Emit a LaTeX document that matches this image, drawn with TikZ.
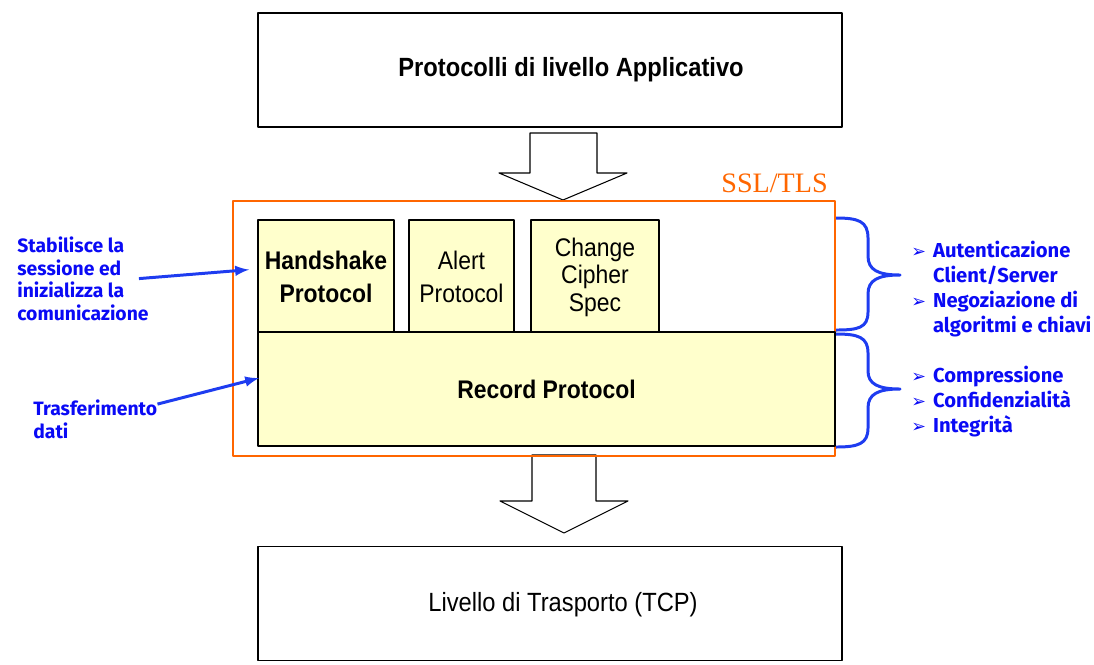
\documentclass[tikz,border=0pt]{standalone}
\usepackage{fontspec}
\setmainfont{Liberation Sans}[FakeStretch=0.9]
\newfontfamily\notefont{Fira Sans}
\newfontfamily\sslfont{Liberation Serif}
\newfontfamily\symfont{DejaVu Sans}
\definecolor{protofill}{RGB}{255,255,204}
\definecolor{sslorange}{RGB}{255,102,0}
\definecolor{notetext}{RGB}{10,10,245}
\definecolor{noteline}{RGB}{30,60,240}
\newcommand{\bul}{{\symfont\fontsize{10}{10}\selectfont ➢}\hspace{4pt}}
\begin{document}
\begin{tikzpicture}[x=0.02cm, y=-0.02cm, line join=round, >=latex,
	layer/.style={draw, line width=1.1pt, minimum width=11.68cm, minimum height=2.28cm},
	proto/.style={draw, fill=protofill, line width=1.1pt, minimum height=2.28cm, inner sep=0pt, align=center},
	note/.style={text=notetext, inner sep=0pt, align=left},
	pointer/.style={->, draw=noteline, line width=1.7pt},
	bigarrow/.style={draw, fill=white, line width=0.6pt}]
	\useasboundingbox (0,0) rectangle (1094,664);
	% livelli sopra e sotto
	\node[layer] (app) at (550,70) {};
	\node[font=\bfseries\fontsize{15}{18}\selectfont] (apptxt) at (571,70) {Protocolli di livello Applicativo};
	\node[layer] (tcp) at (550,603.5) {};
	\node[font=\fontsize{15}{18}\selectfont] (tcptxt) at (563,605) {Livello di Trasporto (TCP)};
	% frecce grandi
	\draw[bigarrow] (530,133)--(597,133)--(597,173)--(627,173)--(563,200)--(499,173)--(530,173)--cycle;
	\draw[bigarrow] (532,455)--(596,455)--(596,501)--(628,501)--(564,533)--(500,501)--(532,501)--cycle;
	% SSL/TLS
	\node[draw=sslorange, line width=1.1pt, minimum width=12.04cm, minimum height=5.1cm] (ssl) at (534,328.5) {};
	\node[text=sslorange, anchor=base east, inner sep=0pt, font=\sslfont\fontsize{16}{18}\selectfont] (ssltxt) at (828,192) {SSL/TLS};
	\node[proto, minimum width=2.72cm, font=\bfseries\fontsize{14.5}{18.7}\selectfont] (hs) at (326,277) {Handshake\\Protocol};
	\node[proto, minimum width=2.1cm, font=\fontsize{14.5}{18.7}\selectfont] (alert) at (461.5,277) {Alert\\Protocol};
	\node[proto, minimum width=2.56cm, font=\fontsize{14.5}{15.6}\selectfont] (ccs) at (595,277) {Change\\Cipher\\Spec};
	\node[proto, minimum width=11.54cm, font=\bfseries\fontsize{14.5}{18}\selectfont] (rec) at (546.5,389) {Record Protocol};
	% note a sinistra
	\node[note, anchor=base west, font=\notefont\bfseries\fontsize{11}{12.8}\selectfont] (stab) at (17,320) {Stabilisce la\\sessione ed\\inizializza la\\comunicazione};
	\node[note, anchor=base west, font=\notefont\bfseries\fontsize{11}{12.8}\selectfont] (tra) at (33,438) {Trasferimento\\dati};
	\draw[pointer, shorten >=0.16cm] ([xshift=-0.2cm]stab.east) -- ([yshift=0.16cm]hs.west);
	\draw[pointer] ([yshift=0.3cm]tra.east) -- ([xshift=0.04cm, yshift=0.22cm]rec.west);
	% graffe e note a destra
	\draw[noteline, line width=1.7pt] (836,218) .. controls (858,218) and (868,221) .. (868,238) -- (868,256) .. controls (868,270) and (878,275) .. (900,275) .. controls (878,275) and (868,280) .. (868,294) -- (868,312) .. controls (868,328) and (858,330) .. (836,330);
	\draw[noteline, line width=1.7pt] (836,334) .. controls (858,334) and (868,337) .. (868,353) -- (868,371) .. controls (868,384) and (878,389) .. (900,389) .. controls (878,389) and (868,394) .. (868,408) -- (868,428) .. controls (868,444) and (858,447) .. (836,447);
	\node[note, anchor=base west, font=\notefont\bfseries\fontsize{11.5}{14.2}\selectfont] (hsnote) at (911,332) {\bul Autenticazione\\\hphantom{\bul}Client/Server\\\bul Negoziazione di\\\hphantom{\bul}algoritmi e chiavi};
	\node[note, anchor=base west, font=\notefont\bfseries\fontsize{11.5}{14.2}\selectfont] (recnote) at (911,432) {\bul Compressione\\\bul Confidenzialità\\\bul Integrità};
\end{tikzpicture}
\end{document}
